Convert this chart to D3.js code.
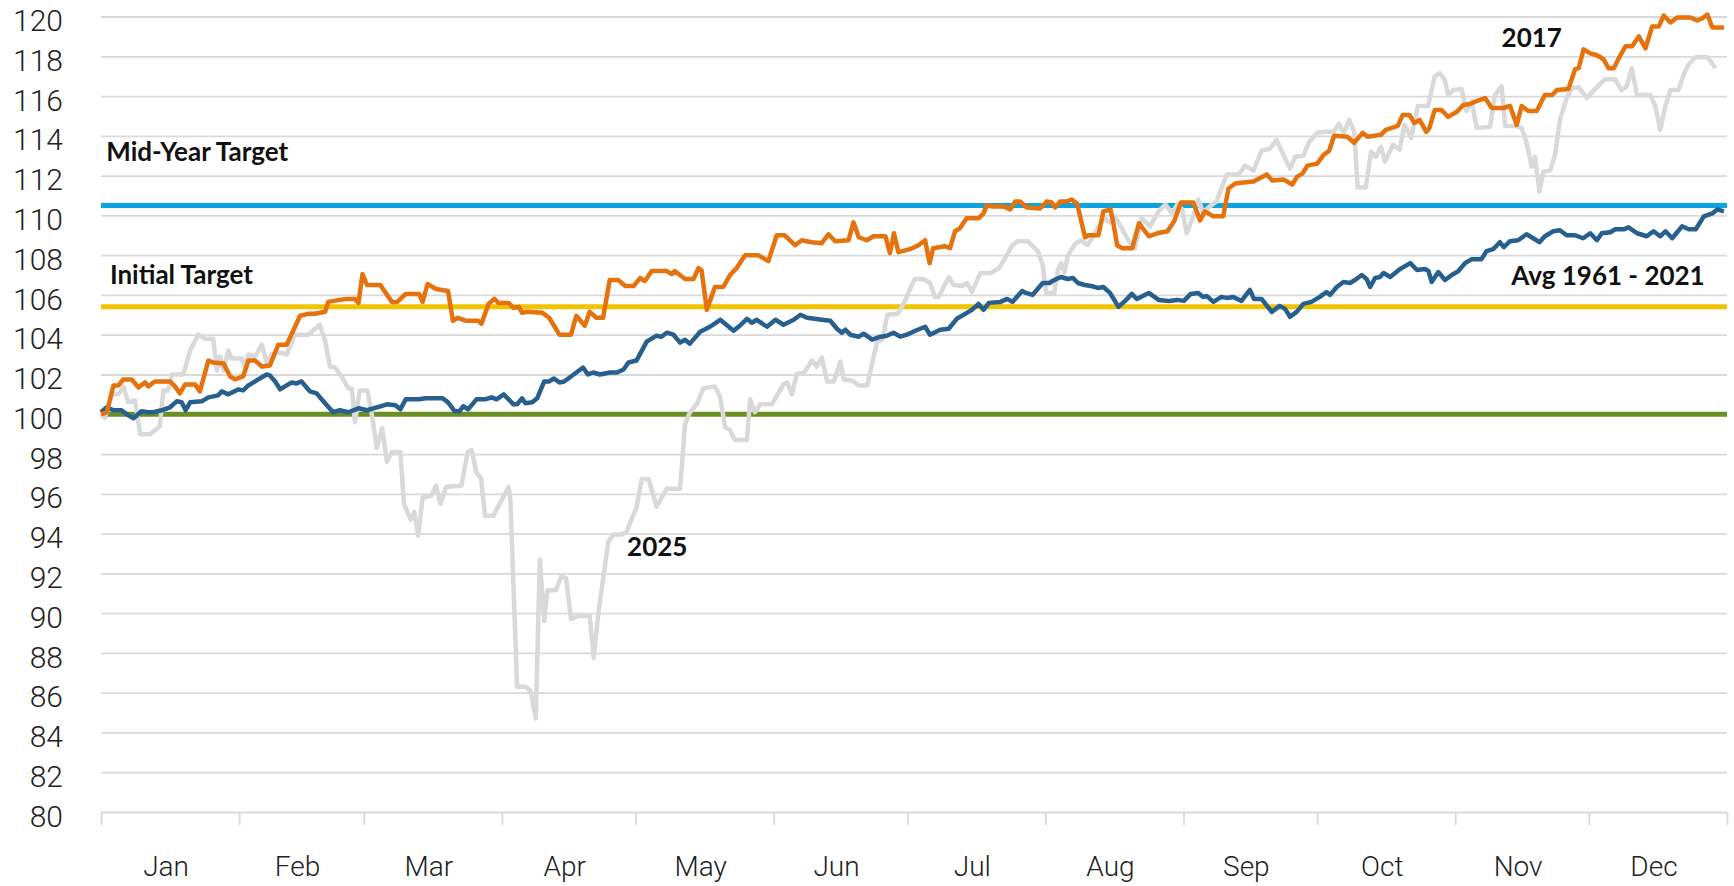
<!DOCTYPE html>
<html>
<head>
<meta charset="utf-8">
<script src="https://cdn.jsdelivr.net/npm/d3@7"></script>
<style>
  body { margin: 0; background: #fff; }
  .tick text { font-family: Roboto, "Open Sans", sans-serif; font-weight: 300; fill: #222; }
  .note { font-family: Lato, "Noto Sans", sans-serif; font-weight: 700; fill: #111; }
</style>
</head>
<body>
<svg id="chart" width="1734" height="886"></svg>
<script>
// [day of year (0 = Jan 1), index level]
const series2025 = [[0,100.0],[0.9,99.8],[2.4,101.0],[3.9,101.0],[5.0,101.4],[6.1,100.6],[7.6,100.7],[8.8,99.0],[11.0,99.0],[13.2,99.4],[14.0,101.2],[15.1,101.2],[15.9,102.0],[18.5,102.0],[20.0,103.2],[21.8,104.0],[23.3,103.8],[25.2,103.8],[26.0,102.2],[26.7,102.9],[27.5,102.2],[28.6,103.2],[29.3,102.8],[31.6,102.8],[32.3,102.4],[33.1,103.0],[34.6,102.9],[36.1,103.5],[37.2,102.6],[38.3,103.0],[40.2,103.1],[41.7,103.0],[43.5,104.0],[46.5,104.0],[49.1,104.5],[50.3,103.7],[51.4,102.4],[52.5,102.35],[54.0,101.9],[55.5,101.3],[56.3,101.3],[57.0,99.6],[58.1,101.2],[59.8,101.2],[61.0,99.7],[61.9,98.3],[63.1,99.3],[64.2,97.6],[65.3,98.1],[67.2,98.1],[68.0,95.5],[69.5,94.7],[70.3,95.1],[71.2,93.9],[72.2,95.8],[74.1,95.9],[75.2,96.4],[76.2,95.5],[77.5,96.35],[80.9,96.4],[82.3,98.1],[83.2,98.2],[84.3,97.05],[85.3,96.8],[86.2,94.9],[88.1,94.9],[91.5,96.35],[91.9,95.7],[93.4,86.3],[95.3,86.3],[96.4,86.1],[97.6,84.7],[98.5,92.7],[99.5,89.6],[100.2,91.15],[102.1,91.15],[103.3,91.85],[104.4,91.75],[105.5,89.7],[107.0,89.85],[109.7,89.85],[110.6,87.75],[111.6,89.9],[112.7,91.7],[113.9,93.6],[115.0,93.95],[116.9,93.95],[118.0,94.1],[118.8,94.55],[120.2,95.3],[121.4,96.75],[122.9,96.75],[124.7,95.35],[127.0,96.25],[130.0,96.25],[131.1,99.5],[132.2,100.1],[133.7,100.5],[135.2,101.3],[137.8,101.4],[139.0,100.85],[140.1,99.35],[141.2,99.2],[142.3,98.7],[145.0,98.7],[145.7,100.75],[146.8,100.1],[148.0,100.5],[150.6,100.5],[153.2,101.5],[154.0,101.6],[155.1,101.0],[156.2,102.05],[157.7,102.05],[159.6,102.7],[160.7,102.4],[161.8,102.85],[163.0,101.65],[164.5,101.65],[166.0,102.65],[166.7,101.75],[168.6,101.7],[170.1,101.45],[172.0,101.45],[174.2,103.65],[175.4,103.75],[176.5,105.0],[178.8,105.05],[180.3,105.6],[181.4,106.2],[182.7,106.8],[184.6,106.8],[186.1,106.6],[187.2,105.9],[188.0,105.9],[190.3,106.9],[191.4,106.5],[193.3,106.45],[194.4,106.6],[195.5,106.15],[197.4,107.1],[199.7,107.1],[201.6,107.35],[202.7,107.75],[204.6,108.5],[205.8,108.7],[208.0,108.7],[210.3,108.2],[211.4,107.5],[212.2,106.1],[214.0,106.1],[214.8,107.25],[215.5,107.6],[216.3,107.15],[217.0,107.95],[218.6,108.55],[220.0,108.75],[221.5,108.5],[222.7,108.95],[223.8,109.4],[225.3,109.85],[226.5,109.65],[227.6,109.95],[228.8,109.5],[230.6,108.75],[232.1,108.35],[233.6,109.85],[235.5,109.45],[237.4,110.2],[238.9,110.55],[240.4,110.1],[241.6,110.55],[242.7,110.3],[243.7,109.1],[245.2,109.95],[246.3,110.8],[247.4,110.15],[248.9,110.45],[250.4,110.7],[252.7,112.05],[255.3,112.05],[256.8,112.5],[258.7,112.25],[260.5,113.25],[262.4,113.35],[263.9,113.8],[265.1,113.2],[266.9,112.35],[268.1,112.95],[269.9,113.0],[271.1,113.65],[273.0,114.15],[275.2,114.2],[276.7,114.2],[277.9,114.6],[279.0,114.15],[280.2,114.8],[281.3,114.2],[282.1,111.4],[283.9,111.4],[285.1,113.2],[286.2,112.95],[287.3,113.45],[288.2,112.7],[290.0,113.55],[291.5,113.3],[292.6,114.55],[294.1,113.9],[295.6,115.5],[297.9,115.5],[299.4,117.0],[300.5,117.15],[301.6,116.85],[302.4,116.05],[303.5,116.3],[305.4,116.35],[306.5,115.25],[307.7,115.75],[308.8,114.4],[311.8,114.45],[312.9,116.05],[314.4,116.5],[315.2,114.5],[317.4,114.5],[318.9,114.4],[320.0,113.65],[321.2,112.45],[321.9,112.95],[322.9,111.2],[323.8,112.2],[325.3,112.25],[326.4,113.05],[327.5,114.8],[329.0,115.9],[330.2,116.4],[331.7,116.45],[333.5,115.9],[335.8,116.45],[337.6,116.85],[339.9,116.85],[341.3,116.3],[342.5,116.5],[343.6,117.4],[344.8,116.05],[347.8,116.05],[348.9,115.5],[350.0,114.3],[351.2,115.5],[352.3,116.3],[354.1,116.3],[355.3,117.1],[356.4,117.6],[357.9,117.95],[360.6,117.95],[361.3,117.75],[362.4,117.4]];

const series2017 = [[0,100.0],[1.3,100.1],[2.8,101.45],[3.9,101.45],[5.0,101.75],[6.9,101.75],[8.4,101.35],[9.9,101.6],[10.6,101.4],[12.1,101.65],[15.5,101.65],[16.6,101.4],[17.7,101.05],[18.9,101.5],[21.1,101.5],[22.2,101.15],[24.1,102.7],[25.2,102.6],[27.5,102.55],[29.0,101.9],[30.1,101.75],[31.9,101.9],[33.1,102.7],[34.6,102.7],[36.1,102.4],[37.9,102.45],[39.8,103.5],[41.7,103.5],[44.7,104.95],[46.5,105.05],[48.0,105.05],[50.3,105.15],[51.0,105.65],[53.6,105.75],[55.1,105.8],[57.0,105.8],[57.8,105.6],[58.7,107.05],[59.7,106.5],[62.7,106.5],[65.3,105.65],[66.5,105.65],[68.4,106.05],[71.4,106.05],[72.2,105.65],[73.3,106.55],[75.2,106.3],[77.9,106.2],[79.0,104.7],[80.1,104.85],[82.0,104.7],[84.7,104.7],[85.4,104.55],[87.0,105.55],[88.3,105.8],[89.2,105.6],[91.5,105.6],[92.6,105.35],[93.8,105.4],[94.5,105.1],[95.7,105.15],[99.1,105.1],[100.6,104.85],[101.7,104.45],[102.9,104.0],[105.5,104.0],[106.7,104.95],[108.6,104.45],[109.7,105.15],[111.2,104.85],[112.7,104.85],[114.2,106.75],[116.1,106.75],[117.7,106.45],[119.6,106.45],[121.0,106.85],[122.1,106.7],[123.6,107.2],[127.0,107.2],[128.1,107.05],[128.8,107.2],[131.1,106.8],[133.0,106.8],[134.1,107.35],[134.8,107.25],[136.0,105.25],[137.8,106.4],[139.7,106.4],[141.2,107.0],[142.7,107.35],[144.6,108.0],[147.5,108.0],[149.8,107.7],[151.7,109.0],[153.5,109.0],[155.8,108.5],[157.3,108.75],[159.5,108.65],[161.8,108.6],[163.3,109.05],[164.8,108.7],[167.8,108.75],[168.9,109.65],[170.1,108.9],[171.9,108.75],[173.4,108.95],[176.1,108.95],[177.1,108.1],[178.0,109.1],[179.0,108.15],[181.6,108.3],[183.5,108.5],[185.0,108.75],[186.0,107.6],[186.8,108.35],[189.4,108.45],[190.6,108.35],[191.7,109.2],[192.8,109.35],[194.3,109.85],[197.0,109.85],[198.1,110.1],[198.8,110.5],[200.3,110.45],[202.6,110.45],[204.1,110.3],[205.2,110.7],[206.3,110.7],[207.8,110.4],[210.8,110.35],[212.3,110.7],[213.4,110.65],[214.2,110.4],[215.3,110.7],[216.8,110.7],[217.9,110.8],[219.1,110.6],[220.9,108.9],[221.7,109.0],[223.9,109.0],[225.0,110.2],[226.6,110.3],[227.3,109.55],[228.1,108.5],[229.2,108.35],[231.5,108.35],[233.0,109.6],[235.2,108.95],[237.1,109.1],[239.4,109.2],[240.9,109.7],[242.4,110.65],[245.2,110.65],[246.7,109.75],[247.8,110.2],[249.7,109.95],[251.9,109.95],[253.1,111.35],[254.6,111.6],[256.5,111.65],[258.7,111.7],[261.7,112.05],[262.9,111.75],[265.5,111.8],[267.4,111.55],[268.5,111.95],[269.7,112.1],[270.8,112.5],[273.0,112.6],[274.5,113.05],[275.7,113.25],[276.8,114.0],[279.8,113.95],[281.3,113.65],[283.2,114.15],[284.3,113.95],[287.3,114.05],[288.4,114.3],[291.1,114.5],[292.2,115.05],[293.7,115.05],[294.8,114.65],[296.0,114.8],[297.5,114.2],[298.2,114.4],[299.4,115.3],[300.9,115.3],[302.4,114.95],[304.3,115.2],[305.8,115.55],[307.3,115.6],[308.8,115.75],[310.7,115.9],[312.2,115.4],[314.8,115.4],[316.3,115.5],[317.8,114.55],[318.9,115.5],[320.4,115.25],[322.3,115.25],[324.1,116.05],[325.7,116.05],[326.8,116.3],[329.4,116.35],[330.9,117.35],[331.7,117.4],[332.8,118.35],[334.3,118.15],[335.8,118.05],[337.3,117.85],[338.4,117.4],[339.6,117.4],[340.7,117.9],[342.2,118.5],[343.7,118.5],[345.2,119.0],[346.7,118.4],[348.2,119.5],[349.7,119.5],[350.8,120.05],[352.3,119.7],[353.8,119.95],[356.8,119.95],[358.3,119.8],[359.4,119.9],[360.6,120.1],[361.7,119.45],[364.3,119.45]];

const seriesAvg = [[0,100.1],[1.3,100.35],[2.8,100.2],[4.6,100.2],[6.1,99.95],[7.3,99.8],[9.1,100.15],[10.6,100.1],[11.7,100.1],[13.6,100.2],[15.5,100.35],[17.0,100.65],[18.1,100.6],[19.0,100.2],[20.0,100.6],[22.6,100.65],[24.1,100.85],[26.3,100.95],[27.1,101.15],[28.6,101.0],[30.8,101.25],[31.9,101.2],[33.1,101.45],[35.3,101.75],[37.2,102.0],[37.9,101.95],[39.1,101.65],[40.2,101.25],[41.3,101.4],[42.8,101.6],[43.9,101.55],[45.0,101.65],[46.9,101.15],[48.4,101.05],[50.3,100.55],[52.1,100.1],[53.6,100.2],[55.5,100.1],[57.8,100.3],[59.7,100.2],[62.7,100.4],[64.2,100.5],[66.1,100.45],[67.2,100.25],[68.4,100.75],[71.4,100.75],[72.9,100.8],[76.7,100.8],[77.9,100.6],[79.4,100.15],[80.5,100.15],[81.3,100.4],[82.4,100.25],[84.3,100.75],[86.2,100.75],[87.7,100.85],[88.8,100.75],[90.4,101.0],[92.6,100.5],[93.4,100.5],[94.5,100.8],[95.3,100.55],[96.8,100.6],[97.9,100.8],[99.5,101.65],[100.6,101.65],[101.7,101.8],[102.9,101.6],[104.0,101.65],[105.5,101.9],[106.7,102.1],[108.2,102.35],[109.3,102.0],[110.5,102.1],[112.0,102.0],[114.2,102.1],[115.8,102.1],[117.3,102.25],[118.4,102.6],[120.2,102.7],[122.5,103.65],[124.7,103.95],[125.8,103.9],[127.0,104.1],[128.5,104.0],[130.0,103.6],[131.1,103.75],[132.2,103.55],[134.5,104.15],[136.7,104.4],[139.0,104.75],[142.0,104.2],[143.4,104.45],[145.0,104.8],[146.1,104.6],[147.2,104.75],[149.5,104.4],[151.4,104.75],[153.2,104.5],[155.5,104.75],[157.0,105.0],[158.5,104.85],[161.8,104.75],[163.7,104.7],[165.2,104.3],[166.3,104.1],[167.1,104.25],[168.2,104.0],[170.1,103.9],[171.2,104.05],[173.1,103.75],[175.0,103.9],[176.4,103.95],[177.9,104.1],[179.4,103.9],[180.9,104.0],[182.8,104.2],[185.0,104.4],[186.1,104.0],[188.4,104.25],[190.3,104.3],[192.1,104.8],[193.6,105.0],[195.5,105.25],[197.0,105.55],[198.1,105.25],[199.3,105.6],[201.9,105.65],[203.4,105.8],[204.6,105.65],[206.8,106.2],[207.6,106.1],[209.1,106.0],[211.4,106.6],[212.9,106.6],[214.0,106.75],[215.5,106.9],[217.0,106.8],[218.2,106.85],[219.3,106.6],[220.8,106.5],[222.3,106.45],[223.8,106.35],[225.0,106.4],[226.5,106.1],[228.4,105.4],[229.9,105.7],[231.4,106.05],[232.5,105.8],[235.2,106.1],[237.4,105.75],[239.7,105.7],[241.6,105.75],[243.1,105.7],[244.6,106.05],[246.3,106.1],[247.4,105.9],[248.2,105.95],[249.7,105.65],[251.5,105.9],[252.7,105.85],[254.2,105.9],[256.0,105.7],[257.9,106.25],[258.8,105.8],[260.5,105.8],[262.8,105.15],[264.6,105.45],[265.8,105.3],[266.9,104.9],[268.4,105.15],[269.9,105.55],[271.7,105.65],[273.6,105.9],[275.1,106.15],[275.9,106.0],[277.4,106.4],[278.9,106.65],[280.4,106.6],[281.5,106.75],[283.0,107.0],[284.1,106.8],[284.9,106.4],[286.0,106.85],[287.1,106.9],[287.9,107.1],[289.4,106.9],[291.6,107.3],[293.9,107.6],[295.4,107.25],[297.2,107.3],[298.0,107.2],[298.7,106.65],[300.2,107.15],[301.7,106.75],[303.2,107.0],[304.7,107.2],[306.2,107.6],[307.7,107.8],[309.9,107.8],[311.0,108.2],[312.5,108.3],[314.0,108.65],[314.9,108.4],[316.3,108.7],[318.1,108.75],[320.0,109.05],[321.5,108.85],[322.9,108.65],[324.1,108.95],[326.0,109.2],[327.5,109.25],[329.0,109.0],[330.9,109.0],[332.7,108.85],[334.3,109.1],[335.8,108.75],[336.9,109.1],[338.8,109.15],[339.9,109.3],[341.8,109.3],[342.9,109.4],[344.8,109.1],[347.0,108.95],[348.5,109.2],[350.0,108.95],[351.2,109.2],[352.7,108.85],[354.9,109.45],[356.4,109.3],[358.0,109.3],[359.8,109.95],[361.7,110.1],[362.8,110.3],[364.3,110.2]];

// flat reference levels: base, initial target, mid-year target
const targetLevels = [100, 105.4, 110.5];
const targetColors = ['#6a8f23', '#f2c300', '#0aa4df'];

const yTicks = [80, 82, 84, 86, 88, 90, 92, 94, 96, 98, 100, 102, 104, 106, 108, 110, 112, 114, 116, 118, 120];
const monthLabels = ['Jan', 'Feb', 'Mar', 'Apr', 'May', 'Jun', 'Jul', 'Aug', 'Sep', 'Oct', 'Nov', 'Dec'];

const svg = d3.select('#chart');
const margin = {left: 101, top: 16.5, right: 7, bottom: 74};
const width = +svg.attr('width') - margin.left - margin.right;
const height = +svg.attr('height') - margin.top - margin.bottom;

const yearStart = new Date(Date.UTC(2025, 0, 1));
const yearEnd = new Date(Date.UTC(2026, 0, 1));
const toDate = d => new Date(yearStart.getTime() + d * 864e5);

const x = d3.scaleUtc().domain([yearStart, yearEnd]).range([0, width]);
const y = d3.scaleLinear().domain([80, 120]).range([height, 0]);

const g = svg.append('g')
  .attr('transform', `translate(${margin.left},${margin.top})`);

// gridlines + y labels
const yAxisG = g.append('g')
  .call(d3.axisLeft(y).tickValues(yTicks).tickSize(-width).tickPadding(38));
yAxisG.select('.domain').remove();
yAxisG.selectAll('.tick line').attr('stroke', '#d9d9d9').attr('stroke-width', 1.8);
yAxisG.selectAll('.tick text').attr('font-size', 30).attr('dy', '0.47em');

// month ticks
const xAxisG = g.append('g')
  .attr('transform', `translate(0,${height})`)
  .call(d3.axisBottom(x).ticks(d3.utcMonth.every(1)).tickSize(13).tickSizeOuter(0).tickFormat(''));
xAxisG.select('.domain').remove();
xAxisG.selectAll('.tick line').attr('stroke', '#d9d9d9').attr('stroke-width', 1.8);

// month names, centred in each month
g.append('g').selectAll('text')
  .data(monthLabels).enter().append('text')
    .attr('class', 'tick')
    .attr('x', (m, i) => {
      const a = new Date(Date.UTC(2025, i, 1)), b = new Date(Date.UTC(2025, i + 1, 1));
      return (x(a) + x(b)) / 2 - 4;
    })
    .attr('y', height + 64)
    .attr('text-anchor', 'middle')
    .style('font-family', 'Roboto, "Open Sans", sans-serif')
    .style('font-weight', 300)
    .attr('font-size', 28)
    .attr('fill', '#222')
    .text(m => m);

// target lines
g.selectAll('.target')
  .data(targetLevels).enter().append('line')
    .attr('class', 'target')
    .attr('x1', 0).attr('x2', width)
    .attr('y1', d => y(d)).attr('y2', d => y(d))
    .attr('stroke', (d, i) => targetColors[i])
    .attr('stroke-width', 5);

const line = d3.line()
  .x(d => x(toDate(d[0])))
  .y(d => y(d[1]));

const drawSeries = (data, color) => g.append('path')
  .datum(data)
  .attr('fill', 'none')
  .attr('stroke', color)
  .attr('stroke-width', 4.5)
  .attr('stroke-linejoin', 'round')
  .attr('d', line);

drawSeries(series2025, '#d9d9d9');
drawSeries(seriesAvg, '#27608f');
drawSeries(series2017, '#e5720c');

// labels
const note = (text, day, value, anchor) => g.append('text')
  .attr('class', 'note')
  .attr('x', x(toDate(day)))
  .attr('y', y(value))
  .attr('text-anchor', anchor || 'start')
  .attr('font-size', 26)
  .text(text);

note('Mid-Year Target', 1.2, 112.74);
note('Initial Target', 2, 106.55);
note('2017', 314.4, 118.48);
note('Avg 1961 - 2021', 360, 106.5, 'end');
note('2025', 118.1, 92.88);
</script>
</body>
</html>
